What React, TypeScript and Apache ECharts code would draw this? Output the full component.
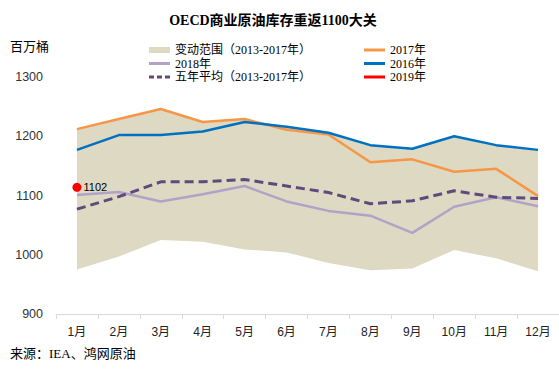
import React, { useEffect, useRef } from "react";
import * as echarts from "echarts";

const months = ["1月", "2月", "3月", "4月", "5月", "6月", "7月", "8月", "9月", "10月", "11月", "12月"];
const bandMin = [975, 997, 1025, 1022, 1009, 1004, 986, 974, 977, 1008, 994, 972];
const bandMax = [1212, 1229, 1246, 1224, 1229, 1216, 1206, 1185, 1179, 1200, 1185, 1177];
const s2017 = [1212, 1229, 1246, 1224, 1229, 1211, 1203, 1156, 1161, 1140, 1145, 1099];
const s2016 = [1177, 1202, 1202, 1208, 1224, 1216, 1206, 1185, 1179, 1200, 1185, 1177];
const s2018 = [1101, 1106, 1090, 1102, 1116, 1090, 1074, 1066, 1037, 1081, 1097, 1082];
const avg5 = [1077, 1098, 1123, 1123, 1127, 1116, 1105, 1086, 1091, 1108, 1097, 1095];
const s2019 = [1102, null, null, null, null, null, null, null, null, null, null, null];

const SERIF = "'Liberation Serif', 'Noto Sans CJK SC', serif";
const SANS = "'Liberation Sans', 'Noto Sans CJK SC', sans-serif";

const N_BAND = "变动范围（2013-2017年）";
const N_2018 = "2018年";
const N_AVG = "五年平均（2013-2017年）";
const N_2017 = "2017年";
const N_2016 = "2016年";
const N_2019 = "2019年";

const lineIcon = "path://M0,0h21v3h-21z";
const areaIcon = "path://M0,0h21v6h-21z";
const dashIcon = "path://M0,0h5v3h-5z M8,0h5v3h-5z M16,0h5v3h-5z";

export default function App() {
  const ref = useRef<HTMLDivElement>(null);
  useEffect(() => {
    if (!ref.current) return;
    const chart = echarts.init(ref.current, null, { renderer: "svg" });
    const bandDiff = bandMax.map((v, i) => v - bandMin[i]);
    const legendCommon = {
      orient: "vertical" as const,
      itemWidth: 21,
      itemHeight: 6,
      itemGap: 1.5,
      textStyle: { fontFamily: SERIF, fontSize: 12, color: "#000" },
      itemStyle: { borderWidth: 0 },
      selectedMode: false,
    };
    chart.setOption({
      animation: false,
      backgroundColor: "#fff",
      title: {
        text: "OECD商业原油库存重返1100大关",
        left: 268,
        textAlign: "center",
        top: 8,
        textStyle: { fontFamily: SERIF, fontSize: 14, fontWeight: "bold", color: "#000" },
      },
      legend: [
        {
          ...legendCommon,
          left: 144,
          top: 39,
          data: [
            { name: N_BAND, icon: areaIcon },
            { name: N_2018, icon: lineIcon },
            { name: N_AVG, icon: dashIcon },
          ],
        },
        {
          ...legendCommon,
          left: 359,
          top: 39,
          data: [
            { name: N_2017, icon: lineIcon },
            { name: N_2016, icon: lineIcon },
            { name: N_2019, icon: lineIcon },
          ],
        },
      ],
      graphic: [
        {
          type: "text",
          left: 10,
          top: 40,
          style: { text: "百万桶", font: `13px ${SERIF}`, fill: "#000" },
        },
        {
          type: "text",
          left: 10,
          top: 347,
          style: { text: "来源：IEA、鸿网原油", font: `13px ${SERIF}`, fill: "#000" },
        },
      ],
      grid: { left: 56, right: 0, top: 77, bottom: 60 },
      xAxis: {
        type: "category",
        data: months,
        boundaryGap: true,
        axisLine: { lineStyle: { color: "#d9d9d9", width: 1 } },
        axisTick: { show: true, length: 5, lineStyle: { color: "#d9d9d9" } },
        axisLabel: { fontFamily: SANS, fontSize: 12, color: "#222", margin: 12 },
      },
      yAxis: {
        type: "value",
        min: 900,
        max: 1300,
        interval: 100,
        splitLine: { show: false },
        axisLine: { show: false },
        axisTick: { show: false },
        axisLabel: {
          fontFamily: SANS,
          fontSize: 12.5,
          color: "#333",
          margin: 13,
          formatter: (v: number) => String(v),
        },
      },
      series: [
        {
          name: "bandBase",
          type: "line",
          stack: "band",
          data: bandMin,
          symbol: "none",
          lineStyle: { opacity: 0, width: 0 },
          silent: true,
        },
        {
          name: N_BAND,
          type: "line",
          stack: "band",
          data: bandDiff,
          symbol: "none",
          lineStyle: { opacity: 0, width: 0 },
          itemStyle: { color: "#ddd9c3" },
          areaStyle: { color: "#ddd9c3", opacity: 1 },
          silent: true,
        },
        {
          name: N_2018,
          type: "line",
          data: s2018,
          symbol: "none",
          itemStyle: { color: "#b3a2c7" },
          lineStyle: { color: "#b3a2c7", width: 2.5 },
        },
        {
          name: N_AVG,
          type: "line",
          data: avg5,
          symbol: "none",
          itemStyle: { color: "#604a7b" },
          lineStyle: { color: "#604a7b", width: 3, type: [9, 5] },
        },
        {
          name: N_2017,
          type: "line",
          data: s2017,
          symbol: "none",
          itemStyle: { color: "#f79646" },
          lineStyle: { color: "#f79646", width: 2.5 },
        },
        {
          name: N_2016,
          type: "line",
          data: s2016,
          symbol: "none",
          itemStyle: { color: "#0070c0" },
          lineStyle: { color: "#0070c0", width: 2.5 },
        },
        {
          name: N_2019,
          type: "line",
          data: s2019,
          symbol: "circle",
          symbolSize: 9,
          symbolOffset: [0, -7],
          showSymbol: true,
          itemStyle: { color: "#ff0000" },
          lineStyle: { color: "#ff0000", width: 2.5 },
          label: {
            show: true,
            position: "right",
            distance: 2,
            formatter: "{c}",
            fontFamily: SANS,
            fontSize: 11,
            color: "#000",
          },
        },
      ],
    });
    return () => chart.dispose();
  }, []);
  return (
    <div
      ref={ref}
      style={{ position: "absolute", left: 0, top: 0, width: 559, height: 374, background: "#fff" }}
    />
  );
}
